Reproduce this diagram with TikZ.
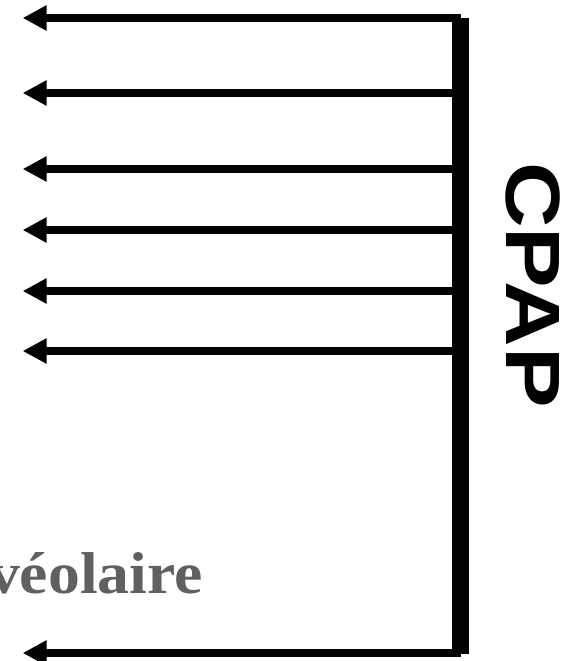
\documentclass[tikz,border=0pt]{standalone}
\usepackage{fontspec}
\usepackage{graphicx}
\setmainfont{Liberation Serif}
\newfontfamily\cpapfont{Liberation Sans}
\usetikzlibrary{arrows.meta}
\definecolor{labelgray}{HTML}{606060}
\begin{document}
\begin{tikzpicture}[x=1pt,y=-1pt,
  flow/.style={line width=8pt, -{Triangle[length=24pt,width=24pt]}},
  barstyle/.style={fill=black, draw=none, inner sep=0pt, minimum width=17pt, minimum height=636pt, anchor=north},
  lbl/.style={font=\bfseries\fontsize{59}{59}\selectfont, text=labelgray, inner sep=0pt},
  cpaplbl/.style={font=\cpapfont\bfseries\fontsize{77}{77}\selectfont, text=black, inner sep=0pt},
]
\useasboundingbox (0,0) rectangle (574,661);
\node[barstyle] (cpapbar) at (460.5,18) {};
\foreach \i/\y in {1/18,2/93,3/169,4/230,5/291,6/351,7/653}{
  \coordinate (s\i) at (461,\y);
  \coordinate (e\i) at (22.7,\y);
  \draw[flow] (s\i) -- (e\i);
}
\node[lbl, anchor=base east] (alv) at (203,593) {\scalebox{1.08}[1]{véolaire}};
\node[cpaplbl, rotate=-90, anchor=base west] (cpap) at (506,162) {\scalebox{1.18}[1]{CPAP}};
\end{tikzpicture}
\end{document}
